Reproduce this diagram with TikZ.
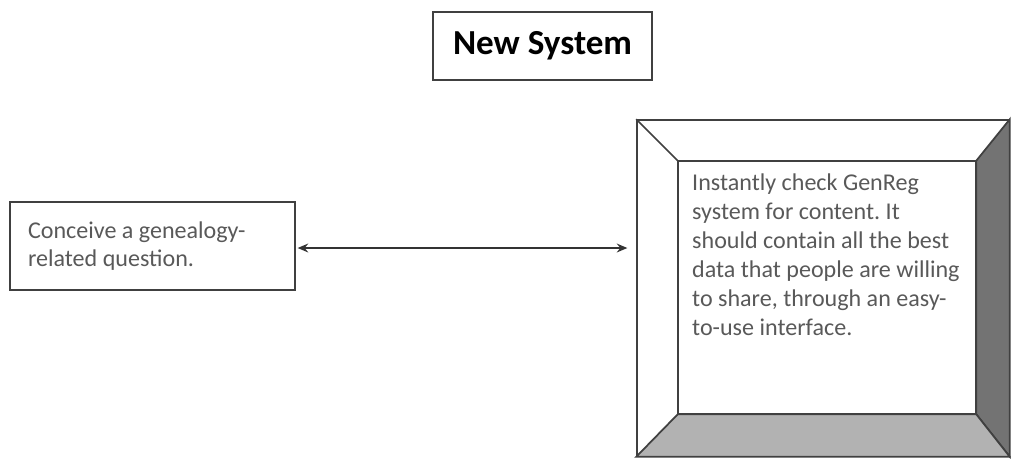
\documentclass[tikz,border=0pt]{standalone}
\usepackage{fontspec}
\setmainfont{Carlito}
\usetikzlibrary{arrows.meta}
\frenchspacing
\tikzset{
  frame/.style={draw=black!75, line width=1pt},
  boxtext/.style={text=black!65, font=\fontsize{13.7}{16.4}\selectfont, align=flush left},
}
\begin{document}
\begin{tikzpicture}[x=0.02cm,y=-0.02cm]
\useasboundingbox (0,0) rectangle (1011,458);
\node [frame, minimum width=4.38cm, minimum height=1.36cm, font=\fontsize{20}{24}\bfseries] (title) at (542.5,46) {New System};
\node [frame, minimum width=5.7cm, minimum height=1.76cm, boxtext, text width=4.98cm, inner xsep=0.36cm] (concept) at (152.5,246) {Conceive a genealogy-\\related question.};
% bevelled box
\node [frame, minimum width=7.44cm, minimum height=6.72cm, inner sep=0pt] (bevel) at (823,288) {};
\node [minimum width=5.96cm, minimum height=5.06cm, inner sep=0pt] (face) at (827,287.5) {};
\filldraw [frame, fill=black!55] (bevel.north east)--(face.north east)--(face.south east)--(bevel.south east)--cycle;
\filldraw [frame, fill=black!30] (bevel.south west)--(face.south west)--(face.south east)--(bevel.south east)--cycle;
\draw [frame] (bevel.north west)--(face.north west);
\draw [frame] (face.north west) rectangle (face.south east);
\node [boxtext, anchor=north west] (check) at (686,168) {Instantly check GenReg\\system for content. It\\should contain all the best\\data that people are willing\\to share, through an easy-\\to-use interface.};
\draw [black!80, line width=1pt, {Stealth[length=6pt,width=5pt]}-{Stealth[length=6pt,width=5pt]}, shorten <=1pt, shorten >=5pt] (concept.east |- 0,248)--(bevel.west |- 0,248);
\end{tikzpicture}
\end{document}
